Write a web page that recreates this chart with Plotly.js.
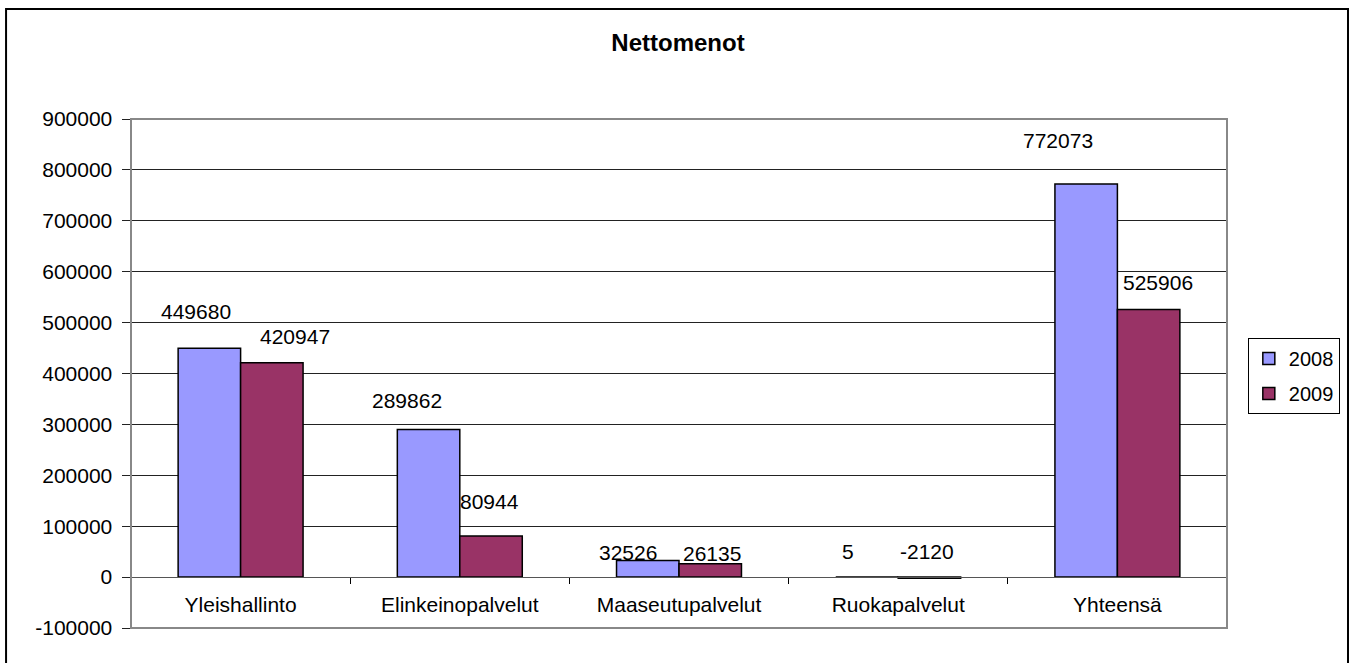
<!DOCTYPE html>
<html>
<head>
<meta charset="utf-8">
<script src="https://cdn.plot.ly/plotly-3.0.1.min.js"></script>
<style>html,body{margin:0;padding:0;background:#fff;}#chart{width:1356px;height:663px;}</style>
</head>
<body>
<div id="chart"></div>
<script>
var categories = ["Yleishallinto", "Elinkeinopalvelut", "Maaseutupalvelut", "Ruokapalvelut", "Yhteensä"];
var values2008 = [449680, 289862, 32526, 5, 772073];
var values2009 = [420947, 80944, 26135, -2120, 525906];
var seriesNames = ["2008", "2009"];
var yTicks = [-100000, 0, 100000, 200000, 300000, 400000, 500000, 600000, 700000, 800000, 900000];

// label offsets (pixels) from bar top centre, kept separate from the data
var labelDx = [[-13, -22, -20, -19, -28], [23, -2, 2, -2, 9]];
var labelDy = [[37, 29, 8, 26, 44], [26, 34, 10, 26, 27]];

var FONT = "Liberation Sans, Arial, sans-serif";
var barHalf = 31.25;

var traces = [
  {type: "bar", name: seriesNames[0], x: categories, y: values2008, legendgroup: "a",
   marker: {color: "#9999FF", line: {color: "#000", width: 1.5}}, hoverinfo: "x+y"},
  {type: "bar", name: seriesNames[1], x: categories, y: values2009, legendgroup: "b",
   marker: {color: "#993366", line: {color: "#000", width: 1.5}}, hoverinfo: "x+y"}
];

var annotations = [];
[values2008, values2009].forEach(function (vals, s) {
  vals.forEach(function (v, i) {
    annotations.push({
      x: categories[i], y: Math.max(v, 0), xref: "x", yref: "y",
      text: String(v), showarrow: false,
      xshift: (s === 0 ? -barHalf : barHalf) + labelDx[s][i],
      yshift: labelDy[s][i],
      yanchor: "middle", xanchor: "center",
      font: {family: FONT, size: 21, color: "#000"}
    });
  });
});

var layout = {
  width: 1356, height: 663,
  margin: {l: 131, r: 129, t: 119, b: 35},
  paper_bgcolor: "#fff", plot_bgcolor: "#fff",
  title: {text: "<b>Nettomenot</b>", font: {family: FONT, size: 24, color: "#000"},
          x: 0.5, xanchor: "center", y: 1 - 43 / 663, yanchor: "middle", yref: "container"},
  barmode: "group", bargap: 0.43, bargroupgap: 0,
  showlegend: true,
  legend: {x: 1.019, y: 0.5697, xanchor: "left", yanchor: "top",
           traceorder: "grouped", tracegroupgap: 6, itemwidth: 30,
           bordercolor: "#000", borderwidth: 1, bgcolor: "#fff",
           font: {family: FONT, size: 20, color: "#000"}},
  xaxis: {type: "category", anchor: "free", position: 0.1,
          showline: true, linecolor: "#555", linewidth: 1,
          ticks: "outside", tickson: "boundaries", ticklen: 6, tickcolor: "#000",
          ticklabelstandoff: 9,
          showgrid: false, zeroline: false,
          tickfont: {family: FONT, size: 21, color: "#000"}},
  yaxis: {range: [-100000, 900000], tickvals: yTicks, ticktext: yTicks.map(String),
          showline: true, linecolor: "#222", linewidth: 1.5,
          ticks: "outside", ticklen: 8, tickcolor: "#222",
          ticklabelstandoff: 5,
          showgrid: true, gridcolor: "#222", gridwidth: 1,
          zeroline: true, zerolinecolor: "#444", zerolinewidth: 1,
          tickfont: {family: FONT, size: 21, color: "#000"}},
  annotations: annotations,
  shapes: [
    {type: "rect", xref: "paper", yref: "paper", x0: 0, x1: 1, y0: 0, y1: 1,
     line: {color: "#888", width: 2}, layer: "above"},
    {type: "rect", xref: "paper", yref: "paper", x0: -0.114, x1: 1.1104, y0: -0.0727, y1: 1.2161,
     line: {color: "#000", width: 2}, layer: "below"}
  ]
};

Plotly.newPlot("chart", traces, layout, {displayModeBar: false, staticPlot: true});
</script>
</body>
</html>
